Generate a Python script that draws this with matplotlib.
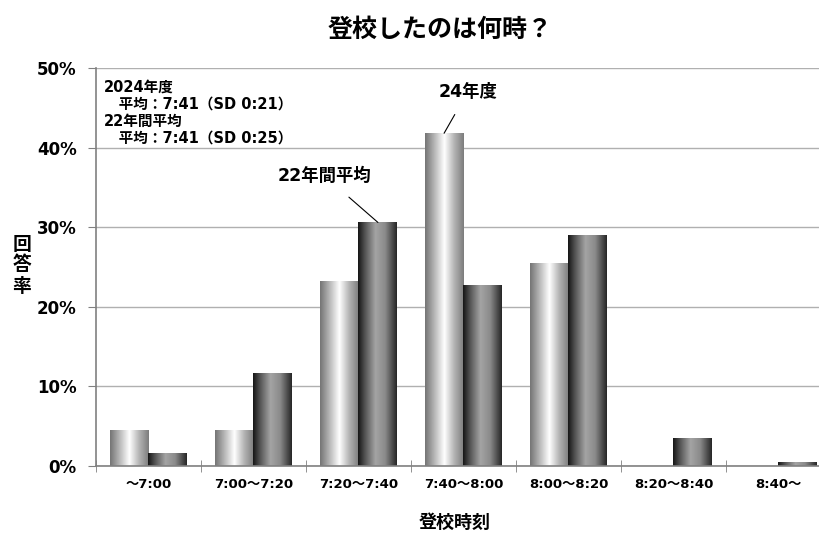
import numpy as np
import matplotlib
matplotlib.use("Agg")
import matplotlib.pyplot as plt
from matplotlib.colors import LinearSegmentedColormap

plt.rcParams['font.family'] = ['DejaVu Sans', 'Noto Sans CJK JP']
plt.rcParams['font.weight'] = 'bold'

# 登校時刻ごとの回答率 (%)
categories = ['～7:00', '7:00～7:20', '7:20～7:40', '7:40～8:00', '8:00～8:20', '8:20～8:40', '8:40～']
y2024 = [4.5, 4.5, 23.2, 41.8, 25.5, 0.0, 0.0]
avg22 = [1.6, 11.6, 30.6, 22.7, 29.0, 3.5, 0.4]
yticks = [0, 10, 20, 30, 40, 50]

# 円柱風のグラデーション
light_cmap = LinearSegmentedColormap.from_list(
    'light', [(0.0, '#747474'), (0.25, '#b8b8b8'), (0.5, '#ffffff'), (0.75, '#b4b4b4'), (1.0, '#7c7c7c')])
dark_cmap = LinearSegmentedColormap.from_list(
    'dark', [(0.0, '#151515'), (0.2, '#5a5a5a'), (0.45, '#a4a4a4'), (0.7, '#8a8a8a'), (1.0, '#262626')])
grad = np.linspace(0, 1, 256).reshape(1, -1)

fig = plt.figure(figsize=(8.2, 5.36), dpi=100)
ax = fig.add_axes([96/820, 70/536, 735/820, 398/536])

w = 0.37
x = np.arange(len(categories))
for i in x:
    for val, off, cmap in ((y2024[i], -w, light_cmap), (avg22[i], 0, dark_cmap)):
        if val <= 0:
            continue
        ax.imshow(grad, cmap=cmap, extent=(i + off, i + off + w, 0, val),
                  aspect='auto', zorder=3, interpolation='bilinear')

ax.set_xlim(-0.5, len(categories) - 0.5)
ax.set_ylim(0, 50)
ax.set_yticks(yticks)
ax.set_yticklabels([f'{t}%' for t in yticks], fontsize=12, fontweight='bold')
ax.set_xticks(x)
ax.set_xticklabels(categories, fontsize=9.5, fontweight='bold')
ax.set_xticks(np.arange(len(categories) + 1) - 0.5, minor=True)
ax.tick_params(axis='x', which='major', length=0, pad=9)
ax.tick_params(axis='x', which='minor', length=8, direction='inout', color='#808080')
ax.tick_params(axis='y', length=6, color='#808080', pad=8)
ax.grid(axis='y', color='#b0b0b0', linewidth=1, zorder=0)
for s in ('top', 'right'):
    ax.spines[s].set_visible(False)
for s in ('left', 'bottom'):
    ax.spines[s].set_color('#808080')
    ax.spines[s].set_linewidth(1.2)
ax.spines['bottom'].set_zorder(4)

fig.text(440/820, 1 - 30/536, '登校したのは何時？', ha='center', va='center', fontsize=18, fontweight='bold')
fig.text(455/820, 1 - 523/536, '登校時刻', ha='center', va='center', fontsize=13, fontweight='bold')
# 縦書きの軸ラベル
for k, ch in enumerate('回答率'):
    fig.text(22/820, 1 - (244 + 21*k)/536, ch, ha='center', va='center', fontsize=13.5, fontweight='bold')

notes = [(104, 87, '2024年度'), (104, 104, '　平均：7:41（SD 0:21）'),
         (104, 121, '22年間平均'), (104, 138, '　平均：7:41（SD 0:25）')]
for px, py, t in notes:
    fig.text(px/820, 1 - py/536, t, ha='left', va='center', fontsize=10.5, fontweight='bold')

ax.annotate('24年度', xy=(3 - w/2, y2024[3]), xytext=(3.04, 47.0),
            ha='center', va='center', fontsize=12.5, fontweight='bold',
            arrowprops=dict(arrowstyle='-', color='black', lw=0.8, shrinkA=9, shrinkB=0))
ax.annotate('22年間平均', xy=(2 + w/2, avg22[2]), xytext=(1.68, 36.4),
            ha='center', va='center', fontsize=12.5, fontweight='bold',
            arrowprops=dict(arrowstyle='-', color='black', lw=0.8, shrinkA=10, shrinkB=0))

fig.savefig('out.png', dpi=100)
